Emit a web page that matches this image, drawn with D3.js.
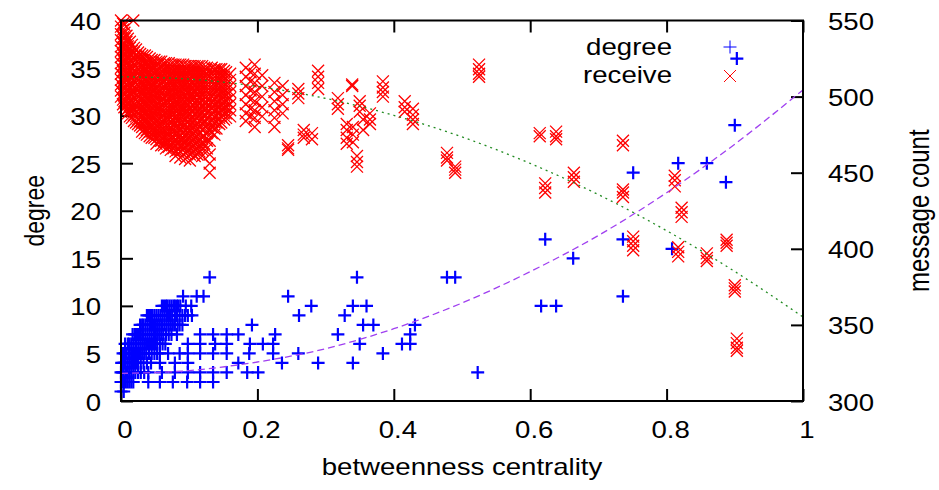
<!DOCTYPE html>
<html><head><meta charset="utf-8">
<script src="https://cdn.jsdelivr.net/npm/d3@7"></script>
<style>
body{margin:0;background:#fff}
svg{display:block;background:#fff}
</style>
</head><body>
<svg id="chart" width="939" height="490"></svg>
<script>
// ---------- data ----------
const xTicks = [0, 0.2, 0.4, 0.6, 0.8, 1];
const xTickLabels = ["0", "0.2", "0.4", "0.6", "0.8", "1"];
const degreeTicks = [0, 5, 10, 15, 20, 25, 30, 35, 40];
const messageTicks = [300, 350, 400, 450, 500, 550];

// degree vs betweenness centrality: [centrality, degree]
const degreePoints = [
  [0.000,1],[0.004,1],
  [0.000,2],[0.002,2],[0.004,2],[0.006,2],[0.009,2],[0.012,2],[0.015,2],[0.018,2],[0.040,2],[0.057,2],[0.076,2],[0.097,2],[0.116,2],[0.135,2],
  [0.000,3],[0.002,3],[0.004,3],[0.007,3],[0.009,3],[0.012,3],[0.015,3],[0.018,3],[0.021,3],[0.025,3],[0.029,3],[0.034,3],[0.040,3],[0.060,3],[0.079,3],[0.098,3],[0.116,3],[0.135,3],[0.155,3],[0.185,3],[0.201,3],
  [0.001,4],[0.003,4],[0.005,4],[0.007,4],[0.010,4],[0.013,4],[0.016,4],[0.019,4],[0.022,4],[0.025,4],[0.029,4],[0.033,4],[0.038,4],[0.044,4],[0.057,4],[0.079,4],[0.098,4],[0.172,4],[0.236,4],[0.289,4],[0.340,4],
  [0.003,5],[0.006,5],[0.008,5],[0.011,5],[0.013,5],[0.016,5],[0.019,5],[0.022,5],[0.025,5],[0.028,5],[0.031,5],[0.034,5],[0.037,5],[0.041,5],[0.045,5],[0.049,5],[0.053,5],[0.057,5],[0.069,5],[0.086,5],[0.098,5],[0.116,5],[0.135,5],[0.155,5],[0.188,5],[0.223,5],[0.260,5],[0.384,5],
  [0.006,6],[0.010,6],[0.012,6],[0.015,6],[0.018,6],[0.021,6],[0.023,6],[0.026,6],[0.029,6],[0.032,6],[0.035,6],[0.038,6],[0.041,6],[0.044,6],[0.047,6],[0.050,6],[0.053,6],[0.057,6],[0.061,6],[0.065,6],[0.098,6],[0.116,6],[0.138,6],[0.155,6],[0.189,6],[0.208,6],[0.223,6],[0.350,6],[0.412,6],[0.424,6],
  [0.017,7],[0.020,7],[0.022,7],[0.025,7],[0.028,7],[0.031,7],[0.033,7],[0.036,7],[0.039,7],[0.042,7],[0.045,7],[0.048,7],[0.050,7],[0.053,7],[0.056,7],[0.059,7],[0.062,7],[0.066,7],[0.070,7],[0.074,7],[0.082,7],[0.116,7],[0.135,7],[0.155,7],[0.172,7],[0.226,7],[0.318,7],[0.424,7],
  [0.028,8],[0.031,8],[0.033,8],[0.036,8],[0.039,8],[0.042,8],[0.044,8],[0.047,8],[0.050,8],[0.053,8],[0.056,8],[0.059,8],[0.061,8],[0.064,8],[0.067,8],[0.070,8],[0.073,8],[0.076,8],[0.079,8],[0.083,8],[0.086,8],[0.090,8],[0.192,8],[0.355,8],[0.370,8],[0.431,8],
  [0.038,9],[0.041,9],[0.044,9],[0.046,9],[0.049,9],[0.052,9],[0.055,9],[0.058,9],[0.061,9],[0.064,9],[0.067,9],[0.069,9],[0.072,9],[0.075,9],[0.079,9],[0.082,9],[0.086,9],[0.090,9],[0.094,9],[0.098,9],[0.104,9],[0.261,9],[0.328,9],
  [0.060,10],[0.063,10],[0.066,10],[0.068,10],[0.071,10],[0.074,10],[0.077,10],[0.079,10],[0.082,10],[0.084,10],[0.087,10],[0.095,10],[0.103,10],[0.279,10],[0.340,10],[0.360,10],[0.616,10],[0.638,10],
  [0.091,11],[0.111,11],[0.121,11],[0.245,11],[0.736,11],
  [0.130,13],[0.346,13],[0.478,13],[0.490,13],
  [0.523,3],[0.663,15],[0.808,16],[0.622,17],[0.736,17],
  [0.887,23],[0.751,24],[0.817,25],[0.859,25],[0.900,29],[0.903,36]
];

// message count received vs centrality: [centrality, [message counts]]
const receiveColumns = [
  [0.000,[550,546,541,537,533,530,526,522,519,515,511,508,504,500]],
  [0.003,[548,544,539,535,532,528,524,521,517,513,510,506,502,498,495]],
  [0.005,[547,542,538,534,531,527,523,520,516,512,509,505,501,497,493]],
  [0.008,[540,536,532,528,524,521,517,513,510,506,502,498,494,491]],
  [0.010,[538,533,530,526,522,518,515,511,507,504,500,496,492,489]],
  [0.013,[536,532,528,524,520,517,513,509,506,502,498,494,491,487]],
  [0.016,[534,530,527,523,519,515,512,508,504,501,497,493,490,486]],
  [0.018,[550]],
  [0.019,[532,529,525,521,517,514,510,506,503,499,495,492,488,484]],
  [0.022,[531,527,524,520,516,512,509,505,501,498,494,490,487,483]],
  [0.025,[529,526,522,518,515,511,507,504,500,496,493,489,485,482]],
  [0.028,[528,525,521,517,514,510,506,503,499,495,492,488,484,481]],
  [0.031,[527,524,520,516,513,509,505,502,498,494,491,487,483,480,477]],
  [0.035,[527,523,519,516,512,508,505,501,497,494,490,486,483,479,476]],
  [0.038,[526,522,518,515,511,507,504,500,496,493,489,485,482,478,475]],
  [0.042,[525,521,518,514,510,507,503,499,496,492,488,485,481,477,474]],
  [0.045,[524,521,517,513,510,506,502,499,495,491,488,484,480,477,473]],
  [0.049,[524,520,516,513,509,505,502,498,494,491,487,483,480,476,473]],
  [0.052,[523,520,516,512,509,505,501,498,494,490,487,483,479,476,472,469]],
  [0.056,[523,519,515,512,508,504,501,497,493,490,486,482,479,475,471]],
  [0.059,[523,519,515,512,508,504,500,497,493,489,486,482,478,475,471,468]],
  [0.063,[522,518,515,511,507,504,500,496,493,489,485,482,478,474,471,468]],
  [0.066,[522,518,514,511,507,503,500,496,492,489,485,481,477,474,470,466]],
  [0.070,[522,518,514,510,507,503,499,496,492,488,485,481,477,474,470,467]],
  [0.073,[521,518,514,510,506,503,499,495,491,488,484,480,477,473,469,465]],
  [0.077,[521,517,514,510,506,503,499,495,492,488,484,481,477,473,469,466]],
  [0.080,[521,517,513,510,506,502,498,495,491,487,483,480,476,472,468,464,461]],
  [0.084,[521,517,513,510,506,502,498,495,491,487,484,480,476,473,469,465]],
  [0.087,[521,517,513,509,505,502,498,494,490,487,483,479,475,472,468,464,460]],
  [0.091,[521,517,513,509,506,502,498,494,491,487,483,480,476,472,468,465]],
  [0.094,[520,517,513,509,505,501,497,494,490,486,482,478,475,471,467,463,459]],
  [0.098,[520,517,513,509,505,502,498,494,490,487,483,479,476,472,468,464]],
  [0.101,[520,516,512,508,505,501,497,493,489,485,482,478,474,470,466,462,458]],
  [0.105,[520,516,513,509,505,501,498,494,490,486,483,479,475,471,467,463]],
  [0.108,[520,516,512,508,504,500,496,493,489,485,481,477,473,469,465,461]],
  [0.112,[520,516,512,509,505,501,497,494,490,486,482,478,474,470,466,462]],
  [0.115,[520,516,512,508,504,500,496,492,488,484,480,476,472,468,464]],
  [0.119,[520,516,512,508,504,501,497,493,489,485,482,478,473,469,465,461]],
  [0.122,[519,516,512,508,504,500,496,492,488,484,479,474,469]],
  [0.126,[519,515,512,508,504,500,496,492,489,485,481,476,471,466]],
  [0.130,[478,471,462,456,450]],
  [0.133,[519,515,511,507,503,500,496,492,488,484,480,476]],
  [0.137,[518,515,511,507,503,499,495,491,487,483,479,475]],
  [0.140,[518,514,510,507,503,499,495,491,487,483,479]],
  [0.144,[518,514,510,506,502,498,494,490,486,482]],
  [0.147,[518,514,510,506,502,498,494,491,487,483]],
  [0.151,[517,513,509,505,501,497,493,489,485]],
  [0.154,[516,512,508,504,501,497,493,489,486]],
  [0.160,[515,511,507,503,499,495,491,487]],
  [0.183,[519,513,507,501,495,489,484]],
  [0.190,[516,510,504,498,492,487]],
  [0.196,[521,515,509,503,497,491,486,480]],
  [0.207,[514,507,500,493,487]],
  [0.225,[509,503,497,491,486,480]],
  [0.237,[507,501,495,489]],
  [0.245,[468,466,465]],
  [0.260,[505,502,499]],
  [0.268,[478,475,473]],
  [0.280,[476,472]],
  [0.289,[517,513,509,505]],
  [0.318,[499,495,492]],
  [0.331,[482,478,473,469]],
  [0.339,[508,507]],
  [0.340,[480,475,470]],
  [0.346,[461,457,454]],
  [0.350,[497,494,490]],
  [0.355,[485,478]],
  [0.365,[489,485,482]],
  [0.384,[510,506,503,500]],
  [0.416,[497,493,490]],
  [0.428,[492,488,485,482]],
  [0.478,[463,460,458]],
  [0.490,[454,452,450]],
  [0.525,[521,518,515,513]],
  [0.614,[476,474]],
  [0.622,[443,440,437]],
  [0.638,[477,474,472]],
  [0.664,[450,447,444]],
  [0.736,[471,468,439,437,434]],
  [0.751,[408,405,402,399]],
  [0.812,[448,445,441]],
  [0.817,[401,398,395]],
  [0.822,[427,424,421]],
  [0.859,[397,394,392]],
  [0.888,[406,404,402]],
  [0.900,[376,374,372]],
  [0.903,[341,338,335,333]]
];

// fitted curves
const fitX = [0, 0.1, 0.2, 0.3, 0.4, 0.5, 0.6, 0.7, 0.8, 0.9, 1.0];
const degreeFit = [2.9, 3.2, 4.1, 5.5, 7.6, 10.3, 13.6, 17.4, 21.9, 27.0, 32.7];
const receiveFit = [513, 511.5, 506.7, 498.8, 487.7, 473.5, 456.1, 435.6, 411.9, 385.1, 355.2];

const legendLabels = ["degree", "receive"];

// ---------- drawing ----------
const FONT = '"Liberation Sans", Arial, Helvetica, sans-serif';
const FS = 23, SX = 1.2;
const plot = {left:121, right:803, top:20.5, bottom:401};
const svg = d3.select("#chart");

const x = d3.scaleLinear().domain([0,1]).range([plot.left, plot.right]);
const yL = d3.scaleLinear().domain([0,40]).range([plot.bottom, plot.top]);
const yR = d3.scaleLinear().domain([300,550]).range([plot.bottom, plot.top]);

function txt(tx, ty, s, anchor, rot, fs) {
  return svg.append("text")
    .attr("transform", `translate(${tx},${ty}) scale(${SX},1)` + (rot ? " rotate(-90)" : ""))
    .attr("text-anchor", anchor)
    .attr("font-family", FONT).attr("font-size", fs || FS).attr("fill", "#000")
    .text(s);
}

function styleAxis(g) {
  g.attr("font-family", FONT).attr("font-size", FS);
  g.select(".domain").remove();
  g.selectAll(".tick line").attr("stroke", "#000").attr("stroke-width", 2);
  g.selectAll(".tick text").attr("fill", "#000").attr("x", null).attr("y", null).attr("dy", null);
}

// bottom axis (inward ticks)
const gx = svg.append("g").attr("transform", `translate(0,${plot.bottom})`)
  .call(d3.axisBottom(x).tickValues(xTicks).tickFormat((d,i)=>xTickLabels[i]).tickSizeInner(-12).tickSizeOuter(0));
styleAxis(gx);
gx.selectAll(".tick text").attr("text-anchor","middle").attr("transform", `translate(3.5,37) scale(${SX},1)`);

// top mirror ticks
const gxt = svg.append("g").attr("transform", `translate(0,${plot.top})`)
  .call(d3.axisTop(x).tickValues(xTicks).tickFormat("").tickSizeInner(-12).tickSizeOuter(0));
styleAxis(gxt);

// left axis
const gl = svg.append("g").attr("transform", `translate(${plot.left},0)`)
  .call(d3.axisLeft(yL).tickValues(degreeTicks).tickFormat(d3.format("d")).tickSizeInner(-12).tickSizeOuter(0));
styleAxis(gl);
gl.selectAll(".tick text").attr("text-anchor","end").attr("transform", `translate(-20,9) scale(${SX},1)`);

// right axis
const gr = svg.append("g").attr("transform", `translate(${plot.right},0)`)
  .call(d3.axisRight(yR).tickValues(messageTicks).tickFormat(d3.format("d")).tickSizeInner(-12).tickSizeOuter(0));
styleAxis(gr);
gr.selectAll(".tick text").attr("text-anchor","start").attr("transform", `translate(25,9) scale(${SX},1)`);

// titles
txt(462, 475, "betweenness centrality", "middle", false);
txt(44, (plot.top+plot.bottom)/2, "degree", "middle", true);
txt(929, (plot.top+plot.bottom)/2, "message count", "middle", true, 24);

const plusPath = "M-6.5,0H6.5M0,-6.5V6.5";
const crossPath = "M-6,-6L6,6M-6,6L6,-6";

// degree points (blue +)
svg.append("g").selectAll("path").data(degreePoints).join("path")
  .attr("d", plusPath)
  .attr("transform", d => `translate(${x(d[0])},${yL(d[1])})`)
  .attr("fill","none").attr("stroke","#0000ff").attr("stroke-width",2.2);

// receive points (red x)
const receivePoints = receiveColumns.flatMap(([cx, ms]) => ms.map(mv => [cx, mv]));
svg.append("g").selectAll("path").data(receivePoints).join("path")
  .attr("d", crossPath)
  .attr("transform", d => `translate(${x(d[0])},${yR(d[1])})`)
  .attr("fill","none").attr("stroke","#ff0000").attr("stroke-width",1.3);

// fit lines
const degreeLine = d3.line().x((d,i)=>x(fitX[i])).y(d=>yL(d)).curve(d3.curveMonotoneX);
svg.append("path").attr("d", degreeLine(degreeFit))
  .attr("fill","none").attr("stroke","#a040f0").attr("stroke-width",1.3).attr("stroke-dasharray","7,4");
const receiveLine = d3.line().x((d,i)=>x(fitX[i])).y(d=>yR(d)).curve(d3.curveMonotoneX);
svg.append("path").attr("d", receiveLine(receiveFit))
  .attr("fill","none").attr("stroke","#228b22").attr("stroke-width",1.3).attr("stroke-dasharray","2,4");

// legend
txt(672, 55, legendLabels[0], "end", false);
txt(672, 83, legendLabels[1], "end", false);
svg.append("path").attr("d", plusPath).attr("transform","translate(730,47)")
  .attr("fill","none").attr("stroke","#0000ff").attr("stroke-width",1);
svg.append("path").attr("d", crossPath).attr("transform","translate(730,76)")
  .attr("fill","none").attr("stroke","#ff0000").attr("stroke-width",1);

// frame on top
svg.append("rect")
  .attr("x", plot.left).attr("y", plot.top)
  .attr("width", plot.right-plot.left).attr("height", plot.bottom-plot.top)
  .attr("fill","none").attr("stroke","#000").attr("stroke-width",2);
</script>
</body></html>
